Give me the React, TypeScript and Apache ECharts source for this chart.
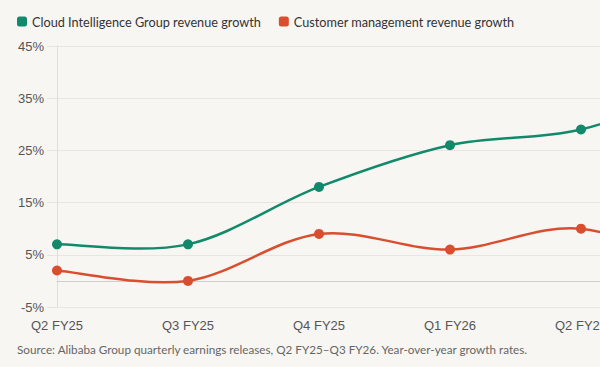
import React, { useEffect, useRef } from "react";
import * as echarts from "echarts";

const categories = ["Q2 FY25", "Q3 FY25", "Q4 FY25", "Q1 FY26", "Q2 FY26", "Q3 FY26"];
const cloudGrowth = [7, 7, 18, 26, 29, 38];
const customerGrowth = [2, 0, 9, 6, 10, 1];
const seriesNames = ["Cloud Intelligence Group revenue growth", "Customer management revenue growth"];
const yTicks = { min: -5, max: 45, step: 10 };
const sourceNote = "Source: Alibaba Group quarterly earnings releases, Q2 FY25\u2013Q3 FY26. Year-over-year growth rates.";

const GREEN = "#12896a";
const RED = "#d94e2e";
const BG = "#f8f6f2";

// Catmull-Rom curve segment between point i and i+1, drawn through the chart's own scales
function curveSeries(name: string, values: number[], color: string) {
  const segs = values.slice(0, -1).map((v, i) => [i, v]);
  return {
    name,
    type: "custom",
    z: 2,
    silent: true,
    data: segs,
    renderItem: (params: any, api: any) => {
      const i = api.value(0);
      const n = values.length;
      const p = (k: number) => {
        const kk = Math.max(0, Math.min(n - 1, k));
        return api.coord([kk, values[kk]]);
      };
      const p0 = p(i - 1);
      const p1 = p(i);
      const p2 = p(i + 1);
      const p3 = p(i + 2);
      return {
        type: "bezierCurve",
        shape: {
          x1: p1[0],
          y1: p1[1],
          cpx1: p1[0] + (p2[0] - p0[0]) / 6,
          cpy1: p1[1] + (p2[1] - p0[1]) / 6,
          cpx2: p2[0] - (p3[0] - p1[0]) / 6,
          cpy2: p2[1] - (p3[1] - p1[1]) / 6,
          x2: p2[0],
          y2: p2[1],
        },
        style: { stroke: color, lineWidth: 2.5, fill: "none" },
      };
    },
  };
}

function markerSeries(name: string, values: number[], color: string) {
  return {
    name,
    type: "line",
    z: 3,
    data: values,
    symbol: "circle",
    symbolSize: 10,
    itemStyle: { color },
    lineStyle: { width: 0, opacity: 0 },
  };
}

export default function App() {
  const ref = useRef<HTMLDivElement>(null);
  useEffect(() => {
    if (!ref.current) return;
    const chart = echarts.init(ref.current, null, { renderer: "svg" });
    chart.setOption({
      animation: false,
      backgroundColor: BG,
      textStyle: { fontFamily: "Lato" },
      legend: {
        left: 12,
        top: 10,
        itemWidth: 10,
        itemHeight: 10,
        itemGap: 18,
        icon: "roundRect",
        textStyle: { fontFamily: "Lato", fontSize: 12.7, color: "#333" },
        data: seriesNames,
      },
      grid: { left: 57, top: 46, bottom: 60, width: 655 },
      xAxis: {
        type: "category",
        data: categories,
        boundaryGap: false,
        axisLine: { show: true, lineStyle: { color: "#cfcfcf" } },
        axisTick: { show: false },
        axisLabel: { fontFamily: "Liberation Sans", fontSize: 13, color: "#555", margin: 12 },
        splitLine: { show: false },
      },
      yAxis: {
        type: "value",
        min: yTicks.min,
        max: yTicks.max,
        interval: yTicks.step,
        axisLine: { show: true, lineStyle: { color: "#dedede" } },
        axisTick: { show: true, length: 10, lineStyle: { color: "#e4e4e4" } },
        axisLabel: {
          fontFamily: "Liberation Sans",
          fontSize: 13,
          color: "#555",
          margin: 13,
          formatter: "{value}%",
        },
        splitLine: { show: true, lineStyle: { color: "#e8e6e2" } },
      },
      series: [
        markerSeries(seriesNames[0], cloudGrowth, GREEN),
        markerSeries(seriesNames[1], customerGrowth, RED),
        curveSeries("cloud-curve", cloudGrowth, GREEN),
        curveSeries("customer-curve", customerGrowth, RED),
      ],
      graphic: [
        {
          type: "text",
          left: 17,
          top: 343,
          style: { text: sourceNote, fontFamily: "Lato", fontSize: 11.7, fill: "#666" },
        },
      ],
    });
    return () => chart.dispose();
  }, []);
  return (
    <div style={{ position: "fixed", left: 0, top: 0, width: 600, height: 367, overflow: "hidden", background: BG }}>
      <div ref={ref} style={{ width: 760, height: 367 }} />
    </div>
  );
}
